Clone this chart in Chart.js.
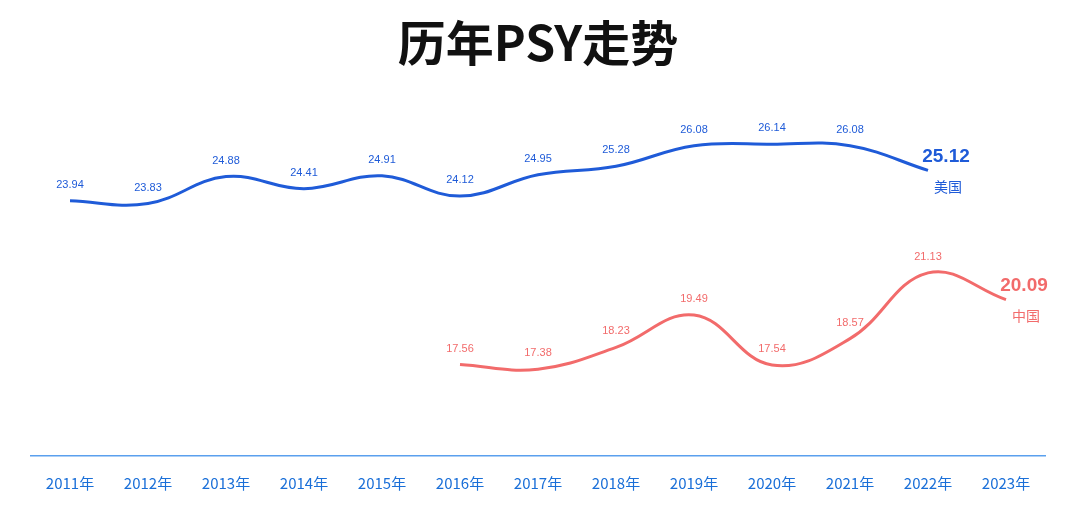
<!DOCTYPE html>
<html><head><meta charset="utf-8">
<script src="https://cdn.jsdelivr.net/npm/chart.js@4"></script>
<style>body{margin:0;background:#fff}#wrap{width:1080px;height:512px}</style>
</head><body><div id="wrap"><canvas id="c"></canvas></div>
<script>
var years = ["2011年","2012年","2013年","2014年","2015年","2016年","2017年","2018年","2019年","2020年","2021年","2022年","2023年"];
var usPsy = [23.94,23.83,24.88,24.41,24.91,24.12,24.95,25.28,26.08,26.14,26.08,25.12,null];
var cnPsy = [null,null,null,null,null,17.56,17.38,18.23,19.49,17.54,18.57,21.13,20.09];
var blue = '#1f5bd8', red = '#f26b6b';

// labels above each point, bigger label + series name at the last one
var pointLabels = {
  id: 'pointLabels',
  afterDatasetsDraw: function(chart) {
    var ctx = chart.ctx;
    chart.data.datasets.forEach(function(ds, i) {
      var meta = chart.getDatasetMeta(i);
      var last = -1;
      ds.data.forEach(function(v, j) { if (v != null) last = j; });
      meta.data.forEach(function(pt, j) {
        var v = ds.data[j];
        if (v == null) return;
        ctx.save();
        ctx.fillStyle = ds.borderColor;
        ctx.textAlign = 'center';
        ctx.textBaseline = 'middle';
        if (j === last) {
          ctx.font = 'bold 19px "Liberation Sans", Arial';
          ctx.fillText(v.toFixed(2), pt.x + 18, pt.y - 14);
          ctx.font = '14px "Noto Sans CJK SC"';
          ctx.fillText(ds.label, pt.x + 20, pt.y + 16);
        } else {
          ctx.font = '11px "Liberation Sans", Arial';
          ctx.fillText(v.toFixed(2), pt.x, pt.y - 16);
        }
        ctx.restore();
      });
    });
  }
};

new Chart(document.getElementById('c'), {
  type: 'line',
  data: {
    labels: years,
    datasets: [
      { label: '美国', data: usPsy, borderColor: blue, borderWidth: 3, tension: 0.4, pointRadius: 0, spanGaps: false },
      { label: '中国', data: cnPsy, borderColor: red, borderWidth: 3, tension: 0.4, pointRadius: 0, spanGaps: false }
    ]
  },
  options: {
    responsive: true, maintainAspectRatio: false, animation: false,
    layout: { padding: { left: 31, right: 35, top: 0, bottom: 2 } },
    plugins: {
      legend: { display: false },
      tooltip: { enabled: false },
      title: { display: true, text: '历年PSY走势', color: '#111',
        font: { size: 48, weight: 'bold', family: '"Noto Sans CJK SC"' },
        padding: { top: 14, bottom: 30 } }
    },
    scales: {
      x: { offset: true,
        grid: { display: false, drawTicks: false },
        border: { color: '#5aa0ee', width: 1.5 },
        ticks: { color: '#1a6fd8', padding: 18, font: { size: 15, family: '"Noto Sans CJK SC"' } } },
      y: { display: false, min: 14, max: 27.8 }
    }
  },
  plugins: [pointLabels]
});
</script></body></html>
